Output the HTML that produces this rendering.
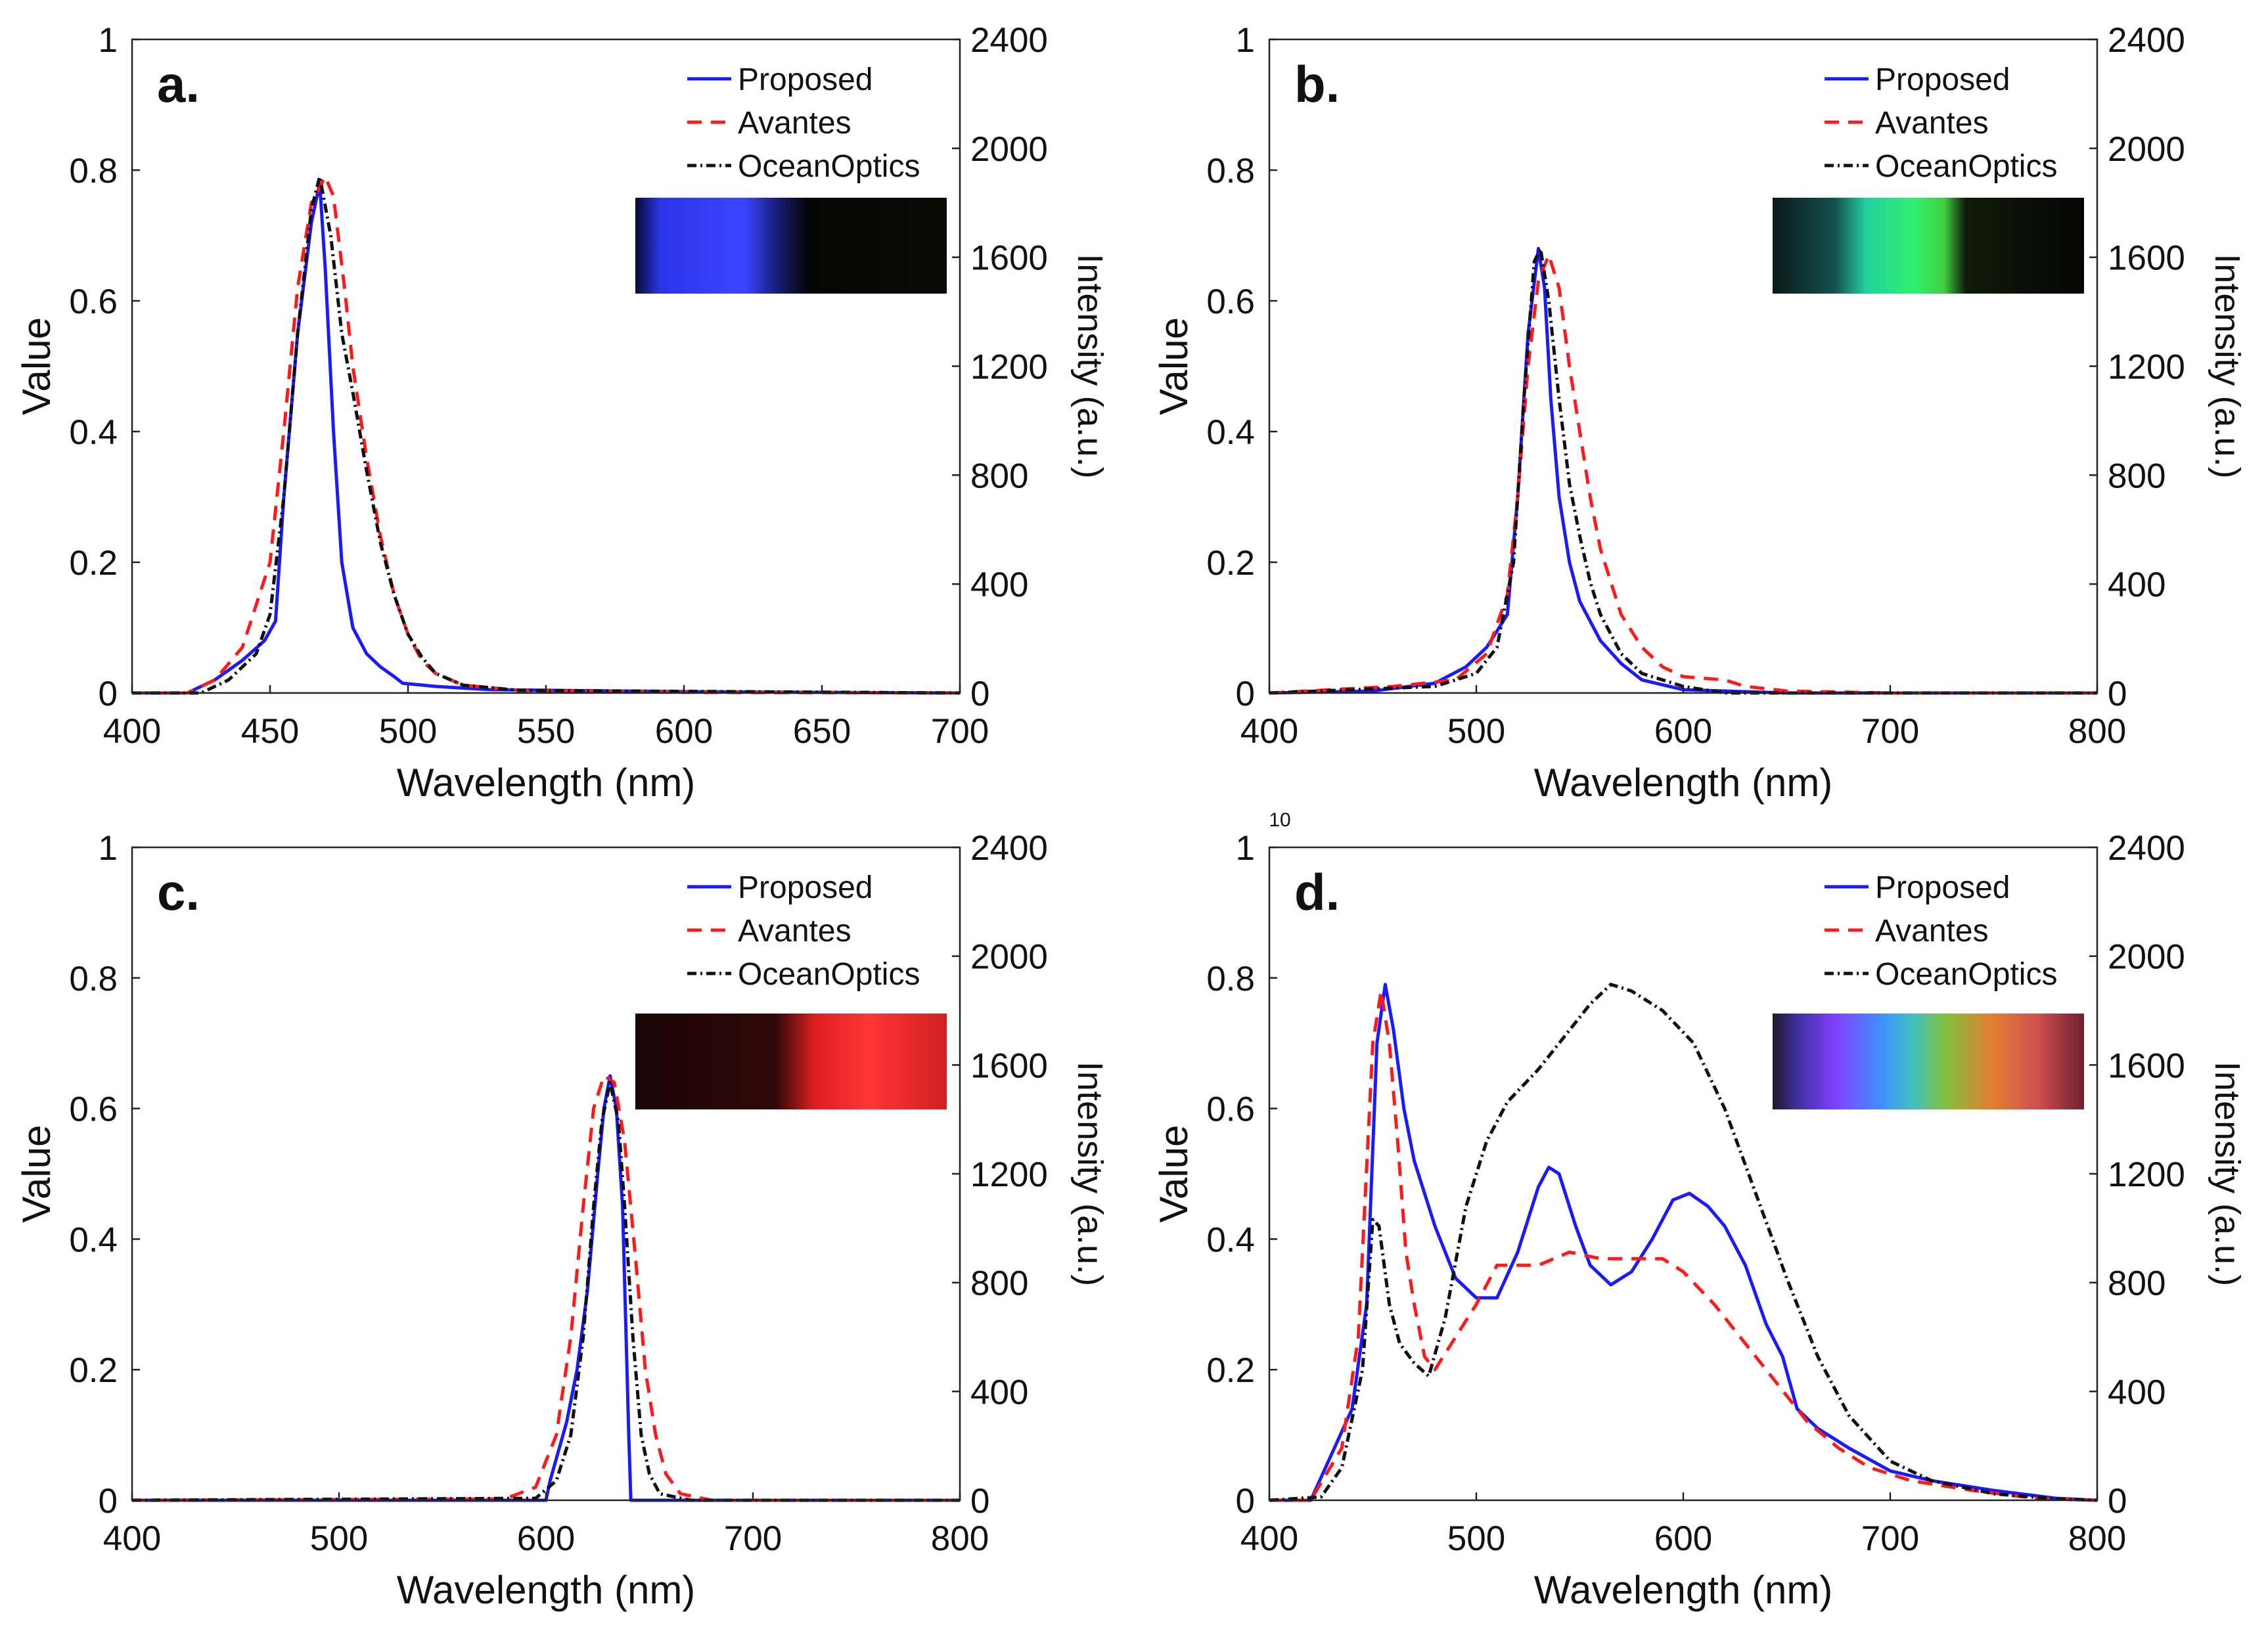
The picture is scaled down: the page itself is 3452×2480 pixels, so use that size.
<!DOCTYPE html>
<html><head><meta charset="utf-8"><style>
html,body{margin:0;padding:0;background:#fff;}
svg{display:block;font-family:"Liberation Sans",Arial,sans-serif;}
</style></head><body>
<svg id="fig" width="3452" height="2480" viewBox="0 0 3452 2480" xmlns="http://www.w3.org/2000/svg">
<defs>
<linearGradient id="gA" x1="0" x2="1" y1="0" y2="0"><stop offset="0" stop-color="#0a0a30"/><stop offset="0.08" stop-color="#2a35e8"/><stop offset="0.35" stop-color="#3a45ff"/><stop offset="0.45" stop-color="#1a1f80"/><stop offset="0.55" stop-color="#050505"/><stop offset="1" stop-color="#0a0a05"/></linearGradient>
<linearGradient id="gB" x1="0" x2="1" y1="0" y2="0"><stop offset="0" stop-color="#0b1a18"/><stop offset="0.2" stop-color="#155050"/><stop offset="0.3" stop-color="#20d0a0"/><stop offset="0.45" stop-color="#30f070"/><stop offset="0.55" stop-color="#40d040"/><stop offset="0.62" stop-color="#101a08"/><stop offset="1" stop-color="#050505"/></linearGradient>
<linearGradient id="gC" x1="0" x2="1" y1="0" y2="0"><stop offset="0" stop-color="#1a0505"/><stop offset="0.45" stop-color="#300808"/><stop offset="0.58" stop-color="#e02020"/><stop offset="0.75" stop-color="#ff3535"/><stop offset="1" stop-color="#d02020"/></linearGradient>
<linearGradient id="gD" x1="0" x2="1" y1="0" y2="0"><stop offset="0" stop-color="#201828"/><stop offset="0.08" stop-color="#4030a0"/><stop offset="0.2" stop-color="#8040ff"/><stop offset="0.35" stop-color="#4090ff"/><stop offset="0.45" stop-color="#40c0c0"/><stop offset="0.55" stop-color="#80c040"/><stop offset="0.7" stop-color="#e08030"/><stop offset="0.85" stop-color="#d05050"/><stop offset="1" stop-color="#702030"/></linearGradient>
</defs>
</svg>
<script>
// ---- data ----
const panelLabels = ["a.","b.","c.","d."];
const xRanges = [[400,700],[400,800],[400,800],[400,800]];
const xTicksA = [400,450,500,550,600,650,700];
const xTicksB = [400,500,600,700,800];
const yTicks = [0,0.2,0.4,0.6,0.8,1];
const yTickLabels = ["0","0.2","0.4","0.6","0.8","1"];
const rightTicks = [0,400,800,1200,1600,2000,2400];
const seriesNames = ["Proposed","Avantes","OceanOptics"];

const aProposedX = [400,420,430,440,448,452,455,460,465,468,470,473,476,480,485,490,495,498,510,530,600,700];
const aProposedY = [0,0,0.02,0.05,0.08,0.11,0.3,0.55,0.72,0.78,0.65,0.4,0.2,0.1,0.06,0.04,0.025,0.015,0.01,0.005,0.002,0];
const aAvantesX = [400,420,430,440,450,455,460,465,470,473,477,480,485,490,495,500,505,510,520,540,600,700];
const aAvantesY = [0,0,0.02,0.07,0.2,0.4,0.62,0.75,0.79,0.76,0.62,0.5,0.36,0.24,0.15,0.09,0.05,0.03,0.012,0.004,0.001,0];
const aOceanX = [400,425,435,445,450,455,460,465,468,472,476,480,485,490,495,500,505,510,520,540,700];
const aOceanY = [0,0,0.02,0.06,0.12,0.3,0.55,0.74,0.79,0.7,0.55,0.46,0.34,0.23,0.15,0.09,0.055,0.03,0.012,0.004,0];

const bProposedX = [400,450,480,495,505,515,520,525,530,533,536,540,545,550,560,570,580,600,650,800];
const bProposedY = [0,0.003,0.015,0.04,0.07,0.12,0.3,0.55,0.68,0.62,0.45,0.3,0.2,0.14,0.08,0.045,0.02,0.005,0,0];
const bAvantesX = [400,430,460,490,505,515,520,525,530,535,540,545,550,555,560,570,580,590,600,620,630,650,700,800];
const bAvantesY = [0,0.005,0.01,0.02,0.06,0.15,0.3,0.5,0.63,0.67,0.62,0.5,0.4,0.3,0.22,0.12,0.07,0.04,0.025,0.02,0.01,0.003,0,0];
const bOceanX = [400,480,500,510,518,523,528,531,535,540,545,550,555,560,570,580,600,620,800];
const bOceanY = [0,0.01,0.03,0.07,0.2,0.45,0.66,0.68,0.6,0.45,0.32,0.24,0.17,0.12,0.06,0.03,0.01,0,0];

const cProposedX = [400,600,602,610,615,620,625,628,631,634,637,640,641,800];
const cProposedY = [0,0,0.03,0.12,0.2,0.32,0.5,0.6,0.65,0.6,0.45,0.1,0,0];
const cAvantesX = [400,580,595,605,612,618,623,628,633,638,643,648,653,658,665,680,800];
const cAvantesY = [0,0.002,0.02,0.1,0.25,0.45,0.6,0.65,0.64,0.55,0.38,0.2,0.1,0.04,0.01,0,0];
const cOceanX = [400,595,605,612,618,623,627,631,635,638,642,646,650,655,670,800];
const cOceanY = [0,0.003,0.03,0.1,0.25,0.45,0.58,0.64,0.58,0.45,0.25,0.1,0.04,0.01,0,0];

const dProposedX = [400,420,430,440,447,452,456,460,465,470,480,490,500,510,520,530,535,540,548,555,565,575,585,595,603,612,620,630,640,648,655,665,680,700,720,750,780,800];
const dProposedY = [0,0,0.07,0.14,0.3,0.7,0.79,0.72,0.6,0.52,0.42,0.34,0.31,0.31,0.38,0.48,0.51,0.5,0.42,0.36,0.33,0.35,0.4,0.46,0.47,0.45,0.42,0.36,0.27,0.22,0.14,0.11,0.08,0.045,0.03,0.015,0.003,0];
const dAvantesX = [400,420,435,443,450,454,458,462,466,470,475,480,490,500,510,520,530,545,560,575,590,600,615,630,645,660,675,690,710,740,770,800];
const dAvantesY = [0,0,0.08,0.25,0.7,0.78,0.7,0.55,0.38,0.3,0.22,0.2,0.25,0.3,0.36,0.36,0.36,0.38,0.37,0.37,0.37,0.35,0.3,0.24,0.18,0.12,0.08,0.05,0.03,0.015,0.003,0];
const dOceanX = [400,425,435,445,450,453,458,463,470,477,485,495,505,515,530,545,555,565,575,590,605,620,635,650,665,680,700,720,750,780,800];
const dOceanY = [0,0.005,0.05,0.2,0.43,0.42,0.3,0.24,0.21,0.19,0.28,0.45,0.55,0.61,0.66,0.72,0.76,0.79,0.78,0.75,0.7,0.6,0.47,0.34,0.22,0.13,0.06,0.03,0.01,0.002,0];

const seriesX = [[aProposedX,aAvantesX,aOceanX],[bProposedX,bAvantesX,bOceanX],[cProposedX,cAvantesX,cOceanX],[dProposedX,dAvantesX,dOceanX]];
const seriesY = [[aProposedY,aAvantesY,aOceanY],[bProposedY,bAvantesY,bOceanY],[cProposedY,cAvantesY,cOceanY],[dProposedY,dAvantesY,dOceanY]];

// ---- drawing ----
const NS = "http://www.w3.org/2000/svg";
const svg = document.getElementById("fig");
function mk(tag, attrs, parent){const e=document.createElementNS(NS,tag);for(const k in attrs)e.setAttribute(k,attrs[k]);(parent||svg).appendChild(e);return e;}
const boxes = [
 {l:201,r:1461,t:60,b:1055,inset:241},
 {l:1932,r:3192,t:60,b:1055,inset:241},
 {l:201,r:1461,t:1290,b:2284,inset:253},
 {l:1932,r:3192,t:1290,b:2284,inset:253}
];
const grads = ["gA","gB","gC","gD"];
const styles = [
 {stroke:"#1a1aff",dash:"none"},
 {stroke:"#ff1a1a",dash:"22,14"},
 {stroke:"#111",dash:"14,6,3,6"}
];
boxes.forEach((B,p)=>{
 const g = mk("g",{});
 
 
 const [x0,x1] = xRanges[p];
 const sx = v => B.l + (v-x0)/(x1-x0)*(B.r-B.l);
 const sy = v => B.b - v*(B.b-B.t);
 const syR = v => B.b - v/2400*(B.b-B.t);
 const im = mk("rect",{x:B.l+766,y:B.t+B.inset,width:474,height:146,fill:"url(#"+grads[p]+")"},g);
 
 
 for(let s=0;s<3;s++){
  const xs=seriesX[p][s], ys=seriesY[p][s];
  let d="";
  xs.forEach((xv,i)=>{d+=(i?"L":"M")+sx(xv).toFixed(1)+","+sy(ys[i]).toFixed(1);});
  const pa = mk("path",{d:d,fill:"none",stroke:styles[s].stroke,"stroke-width":5,"stroke-dasharray":styles[s].dash,"stroke-linejoin":"round"},g);
  
  
 }
 const bx = mk("rect",{x:B.l,y:B.t,width:B.r-B.l,height:B.b-B.t,fill:"none",stroke:"#222","stroke-width":2.5},g);
 
 
 const xt = p===0?xTicksA:xTicksB;
 xt.forEach(v=>{
  mk("line",{x1:sx(v),x2:sx(v),y1:B.b,y2:B.b-12,stroke:"#222","stroke-width":2.5},g);
  const t = mk("text",{x:sx(v),y:B.b+76,"font-size":53,"text-anchor":"middle",fill:"#111"},g);
  t.textContent=v;
  
  
 });
 yTicks.forEach((v,i)=>{
  mk("line",{x1:B.l,x2:B.l+12,y1:sy(v),y2:sy(v),stroke:"#222","stroke-width":2.5},g);
  const t = mk("text",{x:B.l-22,y:sy(v)+19,"font-size":53,"text-anchor":"end",fill:"#111"},g);
  t.textContent=yTickLabels[i];
  
  
 });
 rightTicks.forEach(v=>{
  mk("line",{x1:B.r,x2:B.r-12,y1:syR(v),y2:syR(v),stroke:"#222","stroke-width":2.5},g);
  const t = mk("text",{x:B.r+16,y:syR(v)+19,"font-size":53,"text-anchor":"start",fill:"#111"},g);
  t.textContent=v;
  
  
 });
 const xtit = mk("text",{x:(B.l+B.r)/2,y:B.b+157,"font-size":60,"text-anchor":"middle",fill:"#111"},g);
 xtit.textContent="Wavelength (nm)";
 
 
 const cy=(B.t+B.b)/2;
 const ytit = mk("text",{x:B.l-125,y:cy,"font-size":60,"text-anchor":"middle",fill:"#111",transform:"rotate(-90 "+(B.l-125)+" "+cy+")"},g);
 ytit.textContent="Value";
 
 
 const rtit = mk("text",{x:B.r+180,y:cy,"font-size":54,"text-anchor":"middle",fill:"#111",transform:"rotate(90 "+(B.r+180)+" "+cy+")"},g);
 rtit.textContent="Intensity (a.u.)";
 
 
 const pl = mk("text",{x:B.l+38,y:B.t+95,"font-size":78,"font-weight":"bold",fill:"#111"},g);
 pl.textContent=panelLabels[p];
 
 
 for(let s=0;s<3;s++){
  const ly = B.t+60+s*66;
  const lg = mk("g",{},g);
  
  
  mk("line",{x1:B.l+845,x2:B.l+912,y1:ly,y2:ly,stroke:styles[s].stroke,"stroke-width":5,"stroke-dasharray":styles[s].dash},lg);
  const t = mk("text",{x:B.l+922,y:ly+17,"font-size":48,fill:"#111"},lg);
  t.textContent=seriesNames[s];
 }
 if(p===3){
  const e = mk("text",{x:1948,y:1258,"font-size":30,"text-anchor":"middle",fill:"#111"},g);
  e.textContent="10";
  
  
 }
});
</script>
</body></html>
